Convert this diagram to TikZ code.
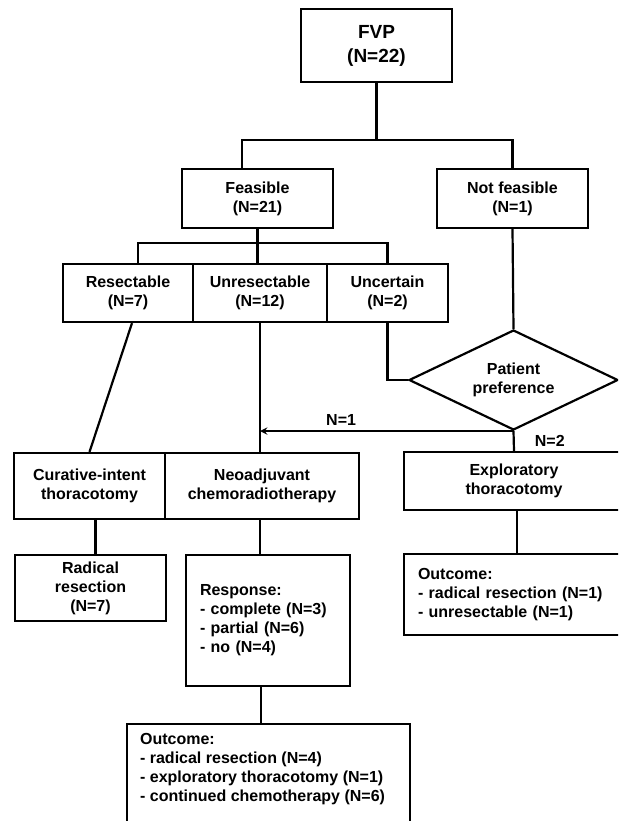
\documentclass[tikz,border=0pt]{standalone}
\usepackage{fontspec}
\setmainfont{Liberation Sans}
\usetikzlibrary{shapes.geometric, arrows}
\tikzstyle{box} = [rectangle, draw=black, line width=2.2pt, align=center, inner sep=2pt, font=\fontsize{16}{19}\selectfont\bfseries]
\tikzstyle{listbox} = [box, align=left, inner xsep=14pt]
\tikzstyle{decision} = [diamond, aspect=2, draw=black, line width=2.2pt, align=center, inner sep=0pt, font=\fontsize{16}{19}\selectfont\bfseries]
\tikzstyle{lbl} = [font=\fontsize{16}{19}\selectfont\bfseries, inner sep=2pt]
\tikzstyle{line} = [line width=2.2pt]
\tikzstyle{arrow} = [line width=2.2pt,->,>=stealth]

\begin{document}
\begin{tikzpicture}[x=1pt,y=-1pt]
\clip (0,0) rectangle (618,821);

\node (fvp) [box, minimum width=151pt, minimum height=73pt, font=\fontsize{19}{24}\selectfont\bfseries] at (376.5,45.5) {FVP\\(N=22)};
\node (feas) [box, minimum width=151pt, minimum height=59pt] at (257.5,198.5) {Feasible\\(N=21)};
\node (notfeas) [box, minimum width=151pt, minimum height=59pt] at (512.5,198.5) {Not feasible\\(N=1)};

\node (resect) [box, minimum width=130pt, minimum height=58pt] at (128,293) {Resectable\\(N=7)};
\node (unres) [box, minimum width=134pt, minimum height=58pt] at (260,293) {Unresectable\\(N=12)};
\node (uncert) [box, minimum width=121pt, minimum height=58pt] at (387.5,293) {Uncertain\\(N=2)};

\node (pref) [decision, minimum width=209pt, minimum height=100pt] at (513.5,380) {Patient\\preference};

\node (cur) [box, minimum width=151pt, minimum height=66pt] at (89.5,486) {Curative-intent\\thoracotomy};
\node (neo) [box, minimum width=194pt, minimum height=66pt] at (262,486) {Neoadjuvant\\chemoradiotherapy};
\node (expl) [box, minimum width=220pt, minimum height=58pt] at (514,481) {Exploratory\\thoracotomy};

\node (rad) [box, minimum width=151pt, minimum height=66pt] at (90.5,588) {Radical\\resection\\(N=7)};
\node (resp) [listbox, text width=136pt, minimum height=131pt] at (268,620.5) {Response:\\- complete (N=3)\\- partial (N=6)\\- no (N=4)};
\node (out1) [listbox, text width=200pt, minimum height=81pt] at (518,594.5) {Outcome:\\- radical resection (N=1)\\- unresectable (N=1)};

\node (out2) [box, minimum width=283pt, minimum height=120pt, anchor=north] at (268.5,723) {};
\node (out2txt) [lbl, anchor=north west, align=left] at ([xshift=12pt,yshift=-8.5pt]out2.north west) {Outcome:\\- radical resection (N=4)\\- exploratory thoracotomy (N=1)\\- continued chemotherapy (N=6)};

% splits
\coordinate (split1) at (376.5,140);
\coordinate (split2) at (257.5,243);

\draw [line] (fvp.south) -- (split1);
\draw [line] (split1) -| ([xshift=-15.5pt]feas.north);
\draw [line] (split1) -| (notfeas.north);

\draw [line] (feas.south) -- (feas.south |- unres.north);
\draw [line] (split2) -| ([xshift=10pt]resect.north);
\draw [line] (split2) -| (uncert.north);

\draw [line] (notfeas.south) -- (pref.north);
\draw [line] (uncert.south) |- (pref.west);
\draw [line] (unres.south) -- (unres.south |- neo.north);
\draw [arrow] (pref.south) -- (pref.south -| unres.south) node[lbl, above=3pt, pos=0.68] {N=1};
\draw [line] (pref.south) -- (expl.north) node[lbl, midway, right=18pt] {N=2};

\draw [line] ([xshift=4pt]resect.south) -- (cur.north);
\draw [line] ([xshift=6pt]cur.south) -- ([xshift=6pt]cur.south |- rad.north);
\draw [line] ([xshift=-2pt]neo.south) -- ([xshift=-2pt]neo.south |- resp.north);
\draw [line] ([xshift=3pt]expl.south) -- ([xshift=3pt]expl.south |- out1.north);
\draw [line] ([xshift=-7pt]resp.south) -- ([xshift=-7pt]resp.south |- out2.north);

\end{tikzpicture}
\end{document}
